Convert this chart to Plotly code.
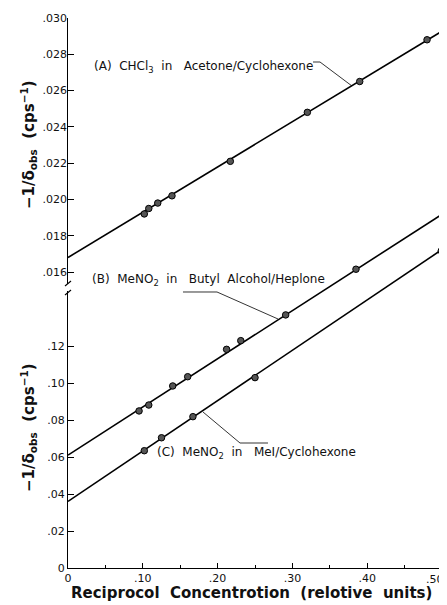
import plotly.graph_objects as go

# ---- data ----
A_x = [0.102, 0.108, 0.120, 0.139, 0.217, 0.320, 0.390, 0.480]
A_y = [0.0192, 0.0195, 0.0198, 0.0202, 0.0221, 0.0248, 0.0265, 0.0288]
B_x = [0.095, 0.108, 0.140, 0.160, 0.212, 0.231, 0.291, 0.385]
B_y = [0.0849, 0.0881, 0.0984, 0.1034, 0.1182, 0.1229, 0.1368, 0.1615]
C_x = [0.102, 0.125, 0.167, 0.250, 0.499]
C_y = [0.0634, 0.0704, 0.0818, 0.1029, 0.1714]

fit_x = [0.0, 0.505]
A_fit = [0.0168, 0.0294]
B_fit = [0.061, 0.1925]
C_fit = [0.036, 0.1735]

x_ticks = [0, 0.1, 0.2, 0.3, 0.4, 0.5]
x_ticktext = ["0", ".10", ".20", ".30", ".40", ".50"]
y_low_ticks = [0, 0.02, 0.04, 0.06, 0.08, 0.10, 0.12]
y_low_text = ["0", ".02", ".04", ".06", ".08", ".10", ".12"]
y_high_ticks = [0.016, 0.018, 0.020, 0.022, 0.024, 0.026, 0.028, 0.030]
y_high_text = [".016", ".018", ".020", ".022", ".024", ".026", ".028", ".030"]

# page body has an 8px margin; figure is sized so it fills the window
OFF = 8
W, H = 447 - OFF, 605 - OFF
L, R, T, B = 68 - OFF, 1, 18 - OFF, 37
PW, PH = W - L - R, H - T - B


def px(x):  # screen pixel -> paper
    return (x - OFF - L) / PW


def py(y):
    return (H - B - (y - OFF)) / PH


FONT = "DejaVu Sans"
marker = dict(symbol="circle", size=6.5, color="#555", line=dict(color="black", width=1))
line = dict(color="black", width=1.6)

fig = go.Figure()
fig.add_trace(go.Scatter(x=fit_x, y=A_fit, mode="lines", line=line, yaxis="y2", showlegend=False))
fig.add_trace(go.Scatter(x=A_x, y=A_y, mode="markers", marker=marker, yaxis="y2", showlegend=False))
fig.add_trace(go.Scatter(x=fit_x, y=B_fit, mode="lines", line=line, showlegend=False))
fig.add_trace(go.Scatter(x=B_x, y=B_y, mode="markers", marker=marker, showlegend=False))
fig.add_trace(go.Scatter(x=fit_x, y=C_fit, mode="lines", line=line, showlegend=False))
fig.add_trace(go.Scatter(x=C_x, y=C_y, mode="markers", marker=marker, showlegend=False))

tickfont = dict(family=FONT, size=11, color="#111")
# the last x tick label sits at the page edge, so it is drawn as an annotation
fig.update_layout(
    width=W, height=H,
    margin=dict(l=L, r=R, t=T, b=B, autoexpand=False),
    paper_bgcolor="white", plot_bgcolor="white",
    xaxis=dict(range=[0, PW / 748.0], tickvals=x_ticks, ticktext=x_ticktext[:-1] + [""],
               ticks="inside", ticklen=5, tickcolor="black", showline=True,
               linecolor="black", linewidth=1.2, showgrid=False, zeroline=False,
               tickfont=tickfont, automargin=False,
               minor=dict(dtick=0.05, tick0=0, ticks="inside", ticklen=3, tickcolor="black", showgrid=False)),
    yaxis=dict(range=[0, PH / 1850.0], tickvals=y_low_ticks, ticktext=y_low_text,
               ticks="inside", ticklen=6, tickcolor="black", showline=True,
               linecolor="black", linewidth=1.2, showgrid=False, zeroline=False,
               tickfont=tickfont, automargin=False),
    yaxis2=dict(range=[0.030 - PH / 18143.0, 0.030], tickvals=y_high_ticks, ticktext=y_high_text,
                overlaying="y", side="left", anchor="x",
                ticks="inside", ticklen=6, tickcolor="black", showline=False,
                showgrid=False, zeroline=False, tickfont=tickfont, automargin=False),
)

ann_font = dict(family=FONT, size=12, color="#111")
title_font = dict(family=FONT, size=15, color="#111")
annotations = [
    dict(text=x_ticktext[-1], x=px(446), y=py(571), xanchor="right", yanchor="top",
         font=tickfont),
    dict(text="(A)  CHCl<sub>3</sub>  in   Acetone/Cyclohexone", x=px(92), y=py(67),
         xanchor="left", yanchor="middle", font=ann_font),
    dict(text="(B)  MeNO<sub>2</sub>  in   Butyl  Alcohol/Heplone", x=px(90), y=py(280),
         xanchor="left", yanchor="middle", font=ann_font),
    dict(text="(C)  MeNO<sub>2</sub>  in   MeI/Cyclohexone", x=px(155), y=py(453),
         xanchor="left", yanchor="middle", font=ann_font),
    dict(text="<b>Reciprocol  Concentrotion  (relotive  units)</b>", x=px(251), y=py(593),
         xanchor="center", yanchor="middle", font=title_font),
    dict(text="<b>\u22121/\u03b4<sub>obs</sub>  (cps<sup>\u22121</sup>)</b>", x=px(28), y=py(145),
         xanchor="center", yanchor="middle", textangle=-90, font=title_font),
    dict(text="<b>\u22121/\u03b4<sub>obs</sub>  (cps<sup>\u22121</sup>)</b>", x=px(28), y=py(428),
         xanchor="center", yanchor="middle", textangle=-90, font=title_font),
]
for a in annotations:
    a.update(xref="paper", yref="paper", showarrow=False)
fig.update_layout(annotations=annotations)


def seg(pts, w=0.8):
    path = "M " + " L ".join(f"{px(x):.5f},{py(y):.5f}" for x, y in pts)
    return dict(type="path", path=path, xref="paper", yref="paper",
                line=dict(color="black", width=w))


shapes = [
    seg([(313, 62), (320, 62), (352, 86)]),
    seg([(183, 292), (217, 292), (278, 319)]),
    seg([(268, 443), (240, 443), (203, 412)]),
    # axis break
    dict(type="rect", xref="paper", yref="paper", x0=px(66), x1=px(70), y0=py(291), y1=py(284),
         fillcolor="white", line=dict(width=0)),
    seg([(65, 286), (71, 281)], 1.1),
    seg([(65, 295), (71, 290)], 1.1),
]
fig.update_layout(shapes=shapes)

fig.write_html("out.html")
